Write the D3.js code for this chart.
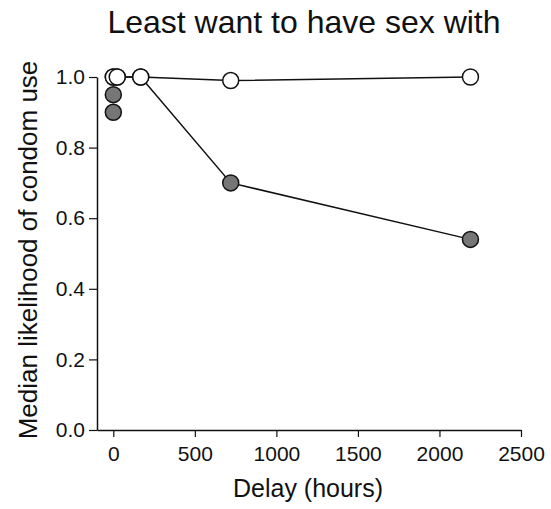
<!DOCTYPE html>
<html>
<head>
<meta charset="utf-8">
<script src="https://cdn.jsdelivr.net/npm/d3@7"></script>
<style>
  html, body { margin: 0; padding: 0; background: #fff; }
  svg text { font-family: "Liberation Sans", Arial, sans-serif; fill: #111; }
</style>
</head>
<body>
<svg id="chart" width="551" height="509"></svg>
<script>
// Delays (hours) at which likelihood was measured
const delays = [0, 24, 168, 720, 2190];
// Open markers: median likelihood per delay
const openValues = [1.0, 1.0, 1.0, 0.99, 1.0];
// Filled markers: median likelihood per delay
const filledValues = [1.0, 1.0, 1.0, 0.70, 0.54];
// Additional filled markers at zero delay
const filledZeroDelay = [0.95, 0.90];

const xTicks = [0, 500, 1000, 1500, 2000, 2500];
const yTicks = [0.0, 0.2, 0.4, 0.6, 0.8, 1.0];

const svg = d3.select("#chart");

const x = d3.scaleLinear().domain([-100, 2500]).range([97, 521]);
const y = d3.scaleLinear().domain([0, 1]).range([430, 77]);

// Axes
const xAxis = d3.axisBottom(x).tickValues(xTicks).tickFormat(d3.format("d"))
  .tickSizeOuter(0).tickSizeInner(7).tickPadding(9);
const yAxis = d3.axisLeft(y).tickValues(yTicks).tickFormat(d3.format(".1f"))
  .tickSizeOuter(0).tickSizeInner(8).tickPadding(4);

const gx = svg.append("g").attr("transform", `translate(0,${y(0)})`).call(xAxis);
const gy = svg.append("g").attr("transform", `translate(${x(-100)},0)`).call(yAxis);

[gx, gy].forEach(g => {
  g.select(".domain").attr("stroke", "#111").attr("stroke-width", 1.5);
  g.selectAll(".tick line").attr("stroke", "#111").attr("stroke-width", 1.2);
  g.selectAll(".tick text").attr("font-size", 21).attr("fill", "#111")
    .style("font-family", "'Liberation Sans', Arial, sans-serif");
});

// Titles
svg.append("text")
  .attr("x", 304).attr("y", 33)
  .attr("text-anchor", "middle")
  .attr("font-size", 32)
  .text("Least want to have sex with");

svg.append("text")
  .attr("x", 308).attr("y", 497)
  .attr("text-anchor", "middle")
  .attr("font-size", 25)
  .text("Delay (hours)");

svg.append("text")
  .attr("transform", "translate(37,250) rotate(-90)")
  .attr("text-anchor", "middle")
  .attr("font-size", 26)
  .text("Median likelihood of condom use");

const line = d3.line().x(d => x(d[0])).y(d => y(d[1]));
const filledPts = delays.map((d, i) => [d, filledValues[i]]);
const openPts = delays.map((d, i) => [d, openValues[i]]);
const r = 8;

// Filled series
svg.append("path").datum(filledPts)
  .attr("d", line).attr("fill", "none").attr("stroke", "#111").attr("stroke-width", 1.5);
svg.append("g").selectAll("circle")
  .data(filledPts.concat(filledZeroDelay.map(v => [0, v])))
  .join("circle")
  .attr("cx", d => x(d[0])).attr("cy", d => y(d[1])).attr("r", r)
  .attr("fill", "#767676").attr("stroke", "#111").attr("stroke-width", 1.5);

// Open series
svg.append("path").datum(openPts)
  .attr("d", line).attr("fill", "none").attr("stroke", "#111").attr("stroke-width", 1.5);
svg.append("g").selectAll("circle")
  .data(openPts)
  .join("circle")
  .attr("cx", d => x(d[0])).attr("cy", d => y(d[1])).attr("r", r)
  .attr("fill", "#fff").attr("stroke", "#111").attr("stroke-width", 1.5);
</script>
</body>
</html>
